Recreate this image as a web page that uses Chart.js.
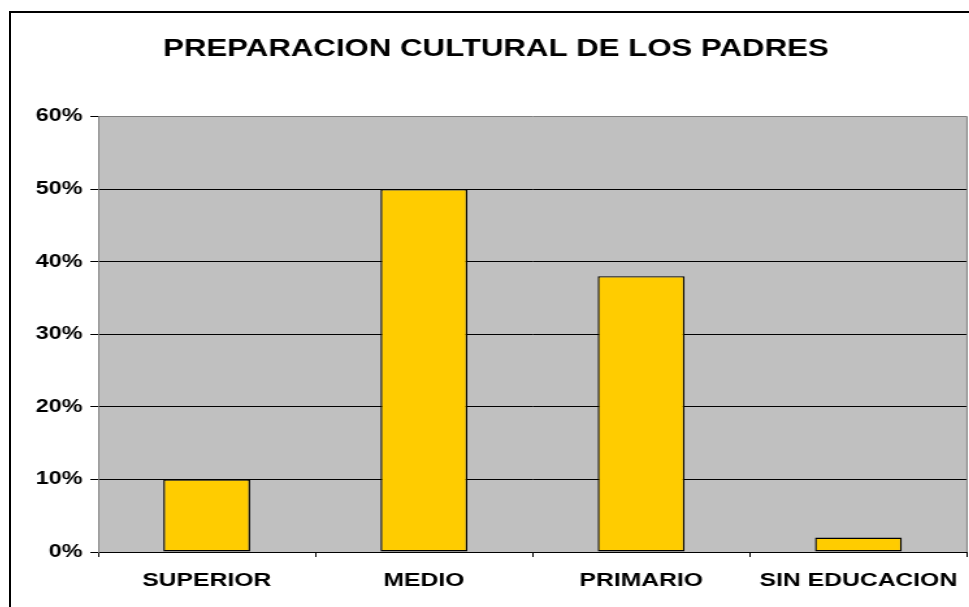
<!DOCTYPE html>
<html lang="es">
<head>
    <meta charset="UTF-8">
    <title>Preparacion cultural de los padres</title>
    <script src="https://cdn.jsdelivr.net/npm/chart.js"></script>
    <style>
        html, body { margin: 0; padding: 0; background: #fff; overflow: hidden; width: 969px; height: 607px; }
        #frame { position: absolute; left: 9px; top: 11px; width: 1000px; height: 640px; border: 2px solid #000; }
        #wrap { position: absolute; left: 0; top: 0; width: 750px; height: 600px; transform: scaleX(1.3); transform-origin: 0 0; }
    </style>
</head>
<body>
    <div id="frame">
        <div id="wrap"><canvas id="chart"></canvas></div>
    </div>

    <script>
        // Data
        const titleText = 'PREPARACION CULTURAL DE LOS PADRES';
        const categories = ['SUPERIOR', 'MEDIO', 'PRIMARIO', 'SIN EDUCACION'];
        const percentages = [10, 50, 38, 2];
        const yTicks = [0, 10, 20, 30, 40, 50, 60];

        const font = 'Arial, "Liberation Sans", sans-serif';

        // grey plot background, grey right edge and the chart title
        const plotBg = {
            id: 'plotBg',
            beforeDraw(chart) {
                const { ctx, chartArea: a } = chart;
                ctx.save();
                ctx.fillStyle = '#C0C0C0';
                ctx.fillRect(a.left, a.top, a.right - a.left, a.bottom - a.top);
                ctx.restore();
            },
            afterDraw(chart) {
                const { ctx, chartArea: a } = chart;
                ctx.save();
                ctx.strokeStyle = '#808080';
                ctx.lineWidth = 1;
                ctx.beginPath();
                ctx.moveTo(a.right, a.top);
                ctx.lineTo(a.right, a.bottom);
                ctx.stroke();

                ctx.fillStyle = '#000';
                ctx.font = 'bold 24px ' + font;
                ctx.textAlign = 'center';
                ctx.textBaseline = 'middle';
                ctx.fillText(titleText, chart.width / 2 - 2, 36);
                ctx.restore();
            }
        };

        new Chart(document.getElementById('chart'), {
            type: 'bar',
            data: {
                labels: categories,
                datasets: [{
                    data: percentages,
                    backgroundColor: '#FFCC00',
                    borderColor: '#000000',
                    borderWidth: 1.4,
                    borderSkipped: false,
                    barPercentage: 0.4,
                    categoryPercentage: 1
                }]
            },
            options: {
                responsive: true,
                maintainAspectRatio: false,
                animation: false,
                layout: { padding: { left: 0, right: 14.6, top: 103.5, bottom: 0 } },
                plugins: {
                    legend: { display: false },
                    tooltip: { enabled: false },
                    title: { display: false }
                },
                scales: {
                    x: {
                        afterFit(s) { s.height = 61; },
                        border: { color: '#000', width: 1 },
                        grid: { drawOnChartArea: false, drawTicks: true, tickLength: 5, color: '#000', offset: true },
                        ticks: { color: '#000', padding: 12, font: { family: font, size: 19, weight: 'bold' }, maxRotation: 0 }
                    },
                    y: {
                        min: 0,
                        max: 60,
                        afterFit(s) { s.width = 67; },
                        afterBuildTicks(s) { s.ticks = yTicks.map(v => ({ value: v })); },
                        border: { color: '#808080', width: 1 },
                        grid: {
                            color: ctx => ctx.tick && ctx.tick.value === 60 ? '#808080' : '#000',
                            tickColor: '#000',
                            tickLength: 6,
                            lineWidth: 1
                        },
                        ticks: {
                            color: '#000',
                            padding: 6,
                            font: { family: font, size: 18, weight: 'bold' },
                            callback: v => v + '%'
                        }
                    }
                }
            },
            plugins: [plotBg]
        });
    </script>
</body>
</html>
